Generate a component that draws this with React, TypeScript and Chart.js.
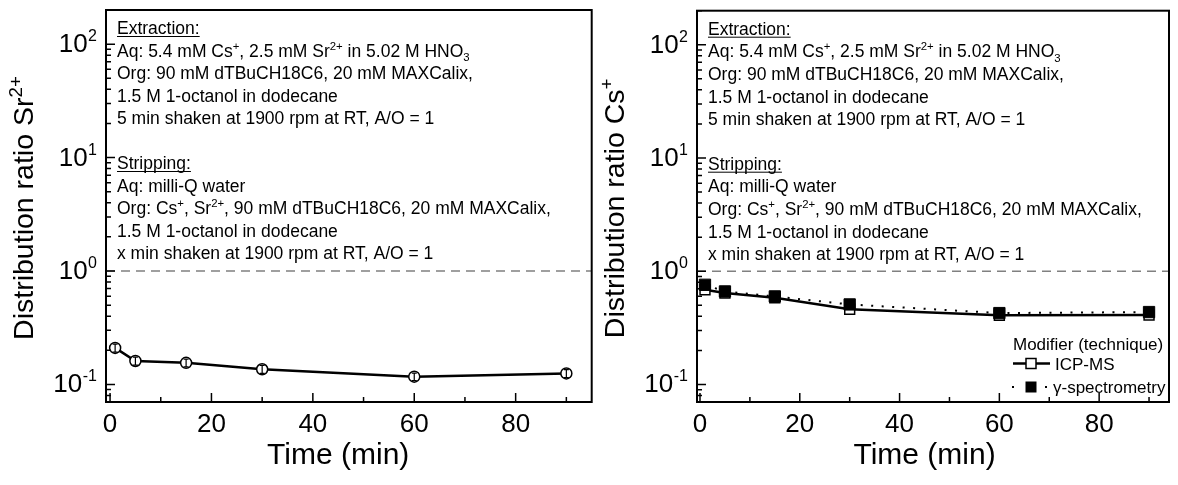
import { useEffect, useRef } from 'react';
import { Chart, registerables } from 'chart.js';

Chart.register(...registerables);

const FONT = '"Liberation Sans", Arial, Helvetica, sans-serif';

// Stripping contact times (min)
const timesMin = [1, 5, 15, 30, 60, 90];

// Sr2+ distribution ratio (ICP-MS) with its uncertainty
const srIcpMs = [0.21, 0.161, 0.155, 0.136, 0.117, 0.125];
const srIcpMsErr = [0.017, 0.013, 0.012, 0.011, 0.009, 0.01];

// Cs+ distribution ratio by technique
const csIcpMs = [0.686, 0.641, 0.583, 0.461, 0.408, 0.41];
const csGamma = [0.759, 0.663, 0.599, 0.509, 0.427, 0.436];

// Axis ticks
const xMajorTicks = [0, 20, 40, 60, 80];
const xMinorTicks = [10, 30, 50, 70, 90];
const yDecadeExponents = [-1, 0, 1, 2];
const referenceRatio = 1;

const legendTitle = 'Modifier (technique)';
const legendLabels = ['ICP-MS', 'γ-spectrometry'];

type Seg = { t: string; v?: 'sup' | 'sub' };

const extractionHeader = 'Extraction:';
const extractionLines: Seg[][] = [
  [{ t: 'Aq: 5.4 mM Cs' }, { t: '+', v: 'sup' }, { t: ', 2.5 mM Sr' }, { t: '2+', v: 'sup' }, { t: ' in 5.02 M HNO' }, { t: '3', v: 'sub' }],
  [{ t: 'Org: 90 mM dTBuCH18C6, 20 mM MAXCalix,' }],
  [{ t: '1.5 M 1-octanol in dodecane' }],
  [{ t: '5 min shaken at 1900 rpm at RT, A/O = 1' }],
];
const strippingHeader = 'Stripping:';
const strippingLines: Seg[][] = [
  [{ t: 'Aq: milli-Q water' }],
  [{ t: 'Org: Cs' }, { t: '+', v: 'sup' }, { t: ', Sr' }, { t: '2+', v: 'sup' }, { t: ', 90 mM dTBuCH18C6, 20 mM MAXCalix,' }],
  [{ t: '1.5 M 1-octanol in dodecane' }],
  [{ t: 'x min shaken at 1900 rpm at RT, A/O = 1' }],
];

const srTitle: Seg[] = [{ t: 'Distribution ratio Sr' }, { t: '2+', v: 'sup' }];
const csTitle: Seg[] = [{ t: 'Distribution ratio Cs' }, { t: '+', v: 'sup' }];

function drawRich(
  ctx: CanvasRenderingContext2D,
  segs: Seg[],
  x: number,
  y: number,
  size: number,
  align: 'left' | 'right' | 'center' = 'left',
  supScale = 0.65,
) {
  const small = size * supScale;
  const widths = segs.map((s) => {
    ctx.font = `${s.v ? small : size}px ${FONT}`;
    return ctx.measureText(s.t).width;
  });
  const total = widths.reduce((a, b) => a + b, 0);
  let cx = align === 'left' ? x : align === 'right' ? x - total : x - total / 2;
  ctx.textAlign = 'left';
  ctx.textBaseline = 'alphabetic';
  segs.forEach((s, i) => {
    ctx.font = `${s.v ? small : size}px ${FONT}`;
    const dy = s.v === 'sup' ? -size * 0.4 : s.v === 'sub' ? size * 0.25 : 0;
    ctx.fillText(s.t, cx, y + dy);
    cx += widths[i];
  });
  return total;
}

function drawConditions(ctx: CanvasRenderingContext2D, left: number, top: number) {
  const size = 17.5;
  const step = 22.6;
  ctx.save();
  ctx.fillStyle = '#000';
  const header = (text: string, base: number) => {
    const w = drawRich(ctx, [{ t: text }], left, base, size);
    ctx.strokeStyle = '#000';
    ctx.lineWidth = 1;
    ctx.beginPath();
    ctx.moveTo(left, base + 2.5);
    ctx.lineTo(left + w, base + 2.5);
    ctx.stroke();
  };
  const b1 = top + 24;
  header(extractionHeader, b1);
  extractionLines.forEach((l, i) => drawRich(ctx, l, left, b1 + step * (i + 1), size));
  const b2 = top + 159;
  header(strippingHeader, b2);
  strippingLines.forEach((l, i) => drawRich(ctx, l, left, b2 + step * (i + 1), size));
  ctx.restore();
}

type PanelCfg = {
  width: number;
  left: number;
  padding: { left: number; top: number; right: number; bottom: number };
  xMin: number;
  xMax: number;
  yTitle: Seg[];
  datasets: any[];
  errorBars?: { y: number[]; err: number[] };
  legend?: boolean;
};

function makeDecor(cfg: PanelCfg) {
  return {
    id: 'panelDecor',
    beforeDatasetsDraw(chart: any) {
      const { ctx, chartArea: a, scales } = chart;
      const y = scales.y;
      const y1 = y.getPixelForValue(referenceRatio);
      ctx.save();
      ctx.strokeStyle = '#808080';
      ctx.lineWidth = 1.6;
      ctx.setLineDash([9, 6]);
      ctx.beginPath();
      ctx.moveTo(a.left, y1);
      ctx.lineTo(a.right, y1);
      ctx.stroke();
      ctx.restore();
      drawConditions(ctx, a.left + 11, a.top);
    },
    afterDatasetsDraw(chart: any) {
      const { ctx, chartArea: a, scales } = chart;
      const x = scales.x;
      const y = scales.y;
      ctx.save();
      ctx.setLineDash([]);
      ctx.strokeStyle = '#000';
      ctx.fillStyle = '#000';

      // error bars inside the markers
      if (cfg.errorBars) {
        ctx.lineWidth = 1.2;
        cfg.errorBars.y.forEach((v, i) => {
          const px = x.getPixelForValue(timesMin[i]);
          const hi = y.getPixelForValue(v + cfg.errorBars!.err[i]);
          const lo = y.getPixelForValue(v - cfg.errorBars!.err[i]);
          ctx.beginPath();
          ctx.moveTo(px, hi);
          ctx.lineTo(px, lo);
          ctx.moveTo(px - 2.5, hi);
          ctx.lineTo(px + 2.5, hi);
          ctx.moveTo(px - 2.5, lo);
          ctx.lineTo(px + 2.5, lo);
          ctx.stroke();
        });
      }

      // frame
      ctx.lineWidth = 2;
      ctx.strokeRect(a.left, a.top, a.right - a.left, a.bottom - a.top);

      // x ticks (inward)
      ctx.lineWidth = 1.5;
      ctx.beginPath();
      xMajorTicks.forEach((v) => {
        const px = x.getPixelForValue(v);
        ctx.moveTo(px, a.bottom);
        ctx.lineTo(px, a.bottom - 9);
      });
      xMinorTicks.forEach((v) => {
        const px = x.getPixelForValue(v);
        ctx.moveTo(px, a.bottom);
        ctx.lineTo(px, a.bottom - 5);
      });
      // y ticks (inward), log minors
      for (let d = -2; d <= 2; d++) {
        for (let k = 1; k <= 9; k++) {
          const v = k * Math.pow(10, d);
          if (v < y.min * 0.999 || v > y.max * 1.001) continue;
          const py = y.getPixelForValue(v);
          ctx.moveTo(a.left, py);
          ctx.lineTo(a.left + (k === 1 ? 9 : 5), py);
        }
      }
      ctx.stroke();

      // x tick labels
      ctx.font = `26px ${FONT}`;
      ctx.textAlign = 'center';
      ctx.textBaseline = 'alphabetic';
      xMajorTicks.forEach((v) => {
        ctx.fillText(String(v), x.getPixelForValue(v), a.bottom + 30);
      });
      // x title
      ctx.font = `30px ${FONT}`;
      ctx.fillText('Time (min)', x.getPixelForValue(45), a.bottom + 62);

      // y tick labels: 10^n
      yDecadeExponents.forEach((e) => {
        const py = y.getPixelForValue(Math.pow(10, e));
        ctx.font = `16px ${FONT}`;
        ctx.textAlign = 'right';
        const supTxt = String(e);
        const right = a.left - 9;
        ctx.fillText(supTxt, right, py - 3);
        const sw = ctx.measureText(supTxt).width;
        ctx.font = `26px ${FONT}`;
        ctx.fillText('10', right - sw - 0.5, py + 8);
      });

      // y title (rotated)
      ctx.save();
      ctx.translate(a.left - 73, (a.top + a.bottom) / 2 + 2);
      ctx.rotate(-Math.PI / 2);
      drawRich(ctx, cfg.yTitle, 0, 0, 28.5, 'center', 0.66);
      ctx.restore();

      // legend
      if (cfg.legend) {
        const lx = a.left + 316;
        ctx.font = `17px ${FONT}`;
        ctx.textAlign = 'left';
        ctx.fillText(legendTitle, lx, 350);
        // solid line + open square
        const r1 = 363.5;
        ctx.lineWidth = 2.5;
        ctx.beginPath();
        ctx.moveTo(lx, r1);
        ctx.lineTo(lx + 37, r1);
        ctx.stroke();
        ctx.fillStyle = '#fff';
        ctx.fillRect(lx + 13, r1 - 5, 10, 10);
        ctx.lineWidth = 1.5;
        ctx.strokeRect(lx + 13, r1 - 5, 10, 10);
        ctx.fillStyle = '#000';
        ctx.fillText(legendLabels[0], lx + 42, r1 + 6);
        // dots + filled square
        const r2 = 387;
        ctx.fillRect(lx - 1, r2 - 1, 2, 2);
        ctx.fillRect(lx + 32, r2 - 1, 2, 2);
        ctx.fillRect(lx + 12.5, r2 - 5.5, 11, 11);
        ctx.fillText(legendLabels[1], lx + 40, r2 + 6);
      }
      ctx.restore();
    },
  };
}

function Panel({ cfg }: { cfg: PanelCfg }) {
  const ref = useRef<HTMLCanvasElement>(null);
  useEffect(() => {
    const chart = new Chart(ref.current!, {
      type: 'line',
      data: { datasets: cfg.datasets },
      options: {
        animation: false,
        responsive: false,
        layout: { padding: cfg.padding },
        scales: {
          x: { type: 'linear', display: false, min: cfg.xMin, max: cfg.xMax },
          y: { type: 'logarithmic', display: false, min: 0.07, max: 200 },
        },
        plugins: { legend: { display: false }, tooltip: { enabled: false } },
        elements: { line: { tension: 0 } },
      },
      plugins: [makeDecor(cfg)],
    } as any);
    return () => chart.destroy();
  }, []);
  return (
    <canvas
      ref={ref}
      width={cfg.width}
      height={485}
      style={{ position: 'absolute', left: cfg.left, top: 0, width: cfg.width, height: 485 }}
    />
  );
}

const srPanel: PanelCfg = {
  width: 600,
  left: 0,
  padding: { left: 106, top: 10, right: 8.3, bottom: 83 },
  xMin: -0.8,
  xMax: 95,
  yTitle: srTitle,
  errorBars: { y: srIcpMs, err: srIcpMsErr },
  datasets: [
    {
      label: legendLabels[0],
      data: timesMin.map((t, i) => ({ x: t, y: srIcpMs[i] })),
      borderColor: '#000',
      borderWidth: 2.5,
      pointStyle: 'circle',
      pointRadius: 5.5,
      pointBorderWidth: 1.5,
      pointBackgroundColor: '#fff',
      pointBorderColor: '#000',
    },
  ],
};

const csPanel: PanelCfg = {
  width: 578,
  left: 600,
  padding: { left: 97, top: 10.7, right: 1.5, bottom: 83 },
  xMin: -0.6,
  xMax: 94,
  yTitle: csTitle,
  legend: true,
  datasets: [
    {
      label: legendLabels[1],
      order: 0,
      data: timesMin.map((t, i) => ({ x: t, y: csGamma[i] })),
      borderColor: '#000',
      borderWidth: 2,
      borderDash: [2, 8.5],
      pointStyle: 'rect',
      pointRadius: 8,
      pointBorderWidth: 1,
      pointBackgroundColor: '#000',
      pointBorderColor: '#000',
    },
    {
      label: legendLabels[0],
      order: 1,
      data: timesMin.map((t, i) => ({ x: t, y: csIcpMs[i] })),
      borderColor: '#000',
      borderWidth: 2.5,
      pointStyle: 'rect',
      pointRadius: 7,
      pointBorderWidth: 1.5,
      pointBackgroundColor: '#fff',
      pointBorderColor: '#000',
    },
  ],
};

export default function App() {
  return (
    <div style={{ position: 'absolute', left: 0, top: 0, width: 1178, height: 485, background: '#fff' }}>
      <Panel cfg={srPanel} />
      <Panel cfg={csPanel} />
    </div>
  );
}
